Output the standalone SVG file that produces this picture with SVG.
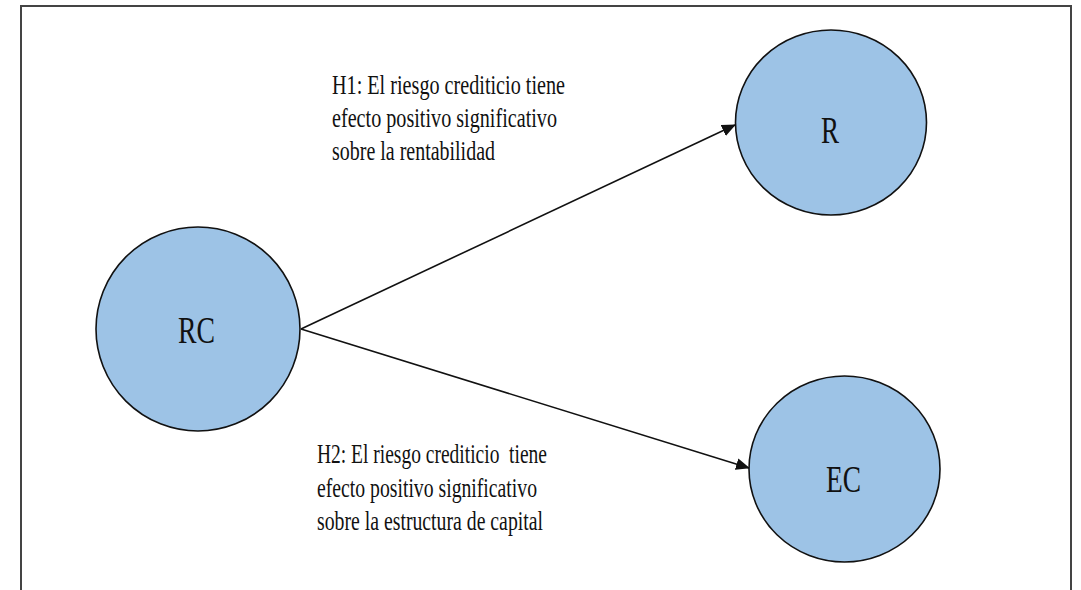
<svg xmlns="http://www.w3.org/2000/svg" width="1081" height="590" viewBox="0 0 1081 590">
<style>
.node{fill:#9dc3e6;stroke:#111;stroke-width:1.6}
.lbl{font-family:"Liberation Serif","Times New Roman",serif;font-size:38px;fill:#111}
.txt{font-family:"Liberation Serif","Times New Roman",serif;font-size:27px;fill:#111}
.edge{stroke:#111;stroke-width:1.6;fill:none;marker-end:url(#ah)}
.frame{fill:none;stroke:#444;stroke-width:2}
</style>
<defs>
<marker id="ah" markerWidth="14" markerHeight="12" refX="13" refY="6" orient="auto" markerUnits="userSpaceOnUse">
<path d="M0,0 L14,6 L0,12 z" fill="#111"/>
</marker>
</defs>
<rect width="1081" height="590" fill="#fff"/>
<path class="frame" d="M21,590 V6 H1071 V590"/>
<g id="connectors">
<path id="e1" class="edge" d="M301,329 L735,125"/>
<path id="e2" class="edge" d="M301,329 L749,468"/>
</g>
<g id="node-RC">
<ellipse class="node" cx="198" cy="329" rx="102" ry="102"/>
<text class="lbl" x="178" y="343" textLength="37" lengthAdjust="spacingAndGlyphs">RC</text>
</g>
<g id="node-R">
<ellipse class="node" cx="831" cy="122.5" rx="95.5" ry="92.5"/>
<text class="lbl" x="821" y="143" textLength="18" lengthAdjust="spacingAndGlyphs">R</text>
</g>
<g id="node-EC">
<ellipse class="node" cx="844.5" cy="469" rx="95.5" ry="93"/>
<text class="lbl" x="826" y="492" textLength="35" lengthAdjust="spacingAndGlyphs">EC</text>
</g>
<g id="label-H1">
<text class="txt" x="332" y="94" textLength="233" lengthAdjust="spacingAndGlyphs">H1: El riesgo crediticio tiene</text>
<text class="txt" x="332" y="127" textLength="225" lengthAdjust="spacingAndGlyphs">efecto positivo significativo</text>
<text class="txt" x="332" y="160" textLength="163" lengthAdjust="spacingAndGlyphs">sobre la rentabilidad</text>
</g>
<g id="label-H2">
<text class="txt" x="317" y="463" textLength="230" lengthAdjust="spacingAndGlyphs" xml:space="preserve">H2: El riesgo crediticio  tiene</text>
<text class="txt" x="317" y="497" textLength="220" lengthAdjust="spacingAndGlyphs">efecto positivo significativo</text>
<text class="txt" x="317" y="530" textLength="226" lengthAdjust="spacingAndGlyphs">sobre la estructura de capital</text>
</g>
</svg>
